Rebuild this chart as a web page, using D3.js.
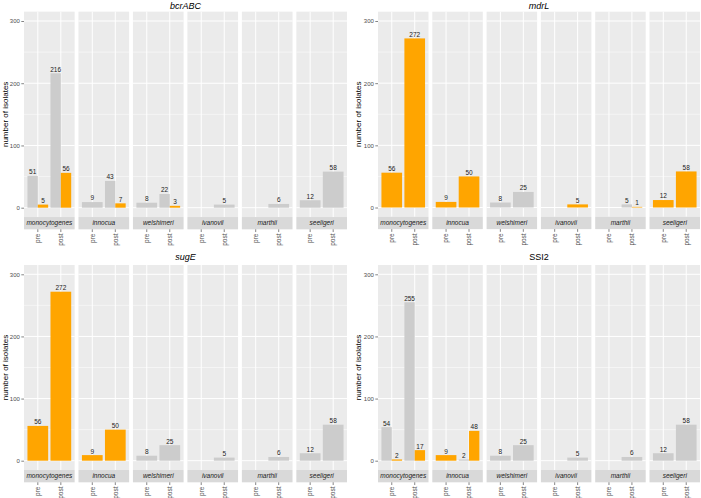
<!DOCTYPE html>
<html>
<head>
<meta charset="utf-8">
<script src="https://cdn.jsdelivr.net/npm/d3@7"></script>
<style>
  html, body { margin: 0; padding: 0; background: #fff; }
  svg { display: block; font-family: "Liberation Sans", Arial, sans-serif; }
</style>
</head>
<body>
<svg id="chart" width="701" height="498"></svg>
<script>
// ---------- data ----------
const species = ["monocytogenes", "innocua", "welshimeri", "ivanovii", "marthii", "seeligeri"];
const periods = ["pre", "post"];
const genes = ["bcrABC", "mdrL", "sugE", "SSI2"];
const geneItalic = [true, true, true, false];
const yTicks = [0, 100, 200, 300];

// values per species: [pre, post]; null = no bar
// grey = gene absent, orange = gene present
const bcrABC_absent  = [[51, 216], [9, 43], [8, 22], [null, 5], [null, 6], [12, 58]];
const bcrABC_present = [[5, 56], [null, 7], [null, 3], [null, null], [null, null], [null, null]];
const mdrL_absent    = [[null, null], [null, null], [8, 25], [null, null], [null, 5], [null, null]];
const mdrL_present   = [[56, 272], [9, 50], [null, null], [null, 5], [null, 1], [12, 58]];
const sugE_absent    = [[null, null], [null, null], [8, 25], [null, 5], [null, 6], [12, 58]];
const sugE_present   = [[56, 272], [9, 50], [null, null], [null, null], [null, null], [null, null]];
const SSI2_absent    = [[54, 255], [null, 2], [8, 25], [null, 5], [null, 6], [12, 58]];
const SSI2_present   = [[2, 17], [9, 48], [null, null], [null, null], [null, null], [null, null]];

const absentData = [bcrABC_absent, mdrL_absent, sugE_absent, SSI2_absent];
const presentData = [bcrABC_present, mdrL_present, sugE_present, SSI2_present];

// ---------- layout ----------
const svg = d3.select("#chart");
const COL_BG = "#EBEBEB", COL_STRIP = "#D9D9D9", COL_GREY = "#CCCCCC", COL_ORANGE = "#FFA500";

const layouts = [
  { left: 24, right: 347, y300: 21, y0: 207.7, titleY: 8.5, ytitleX: 7.5 },
  { left: 378, right: 700, y300: 21, y0: 207.5, titleY: 8.5, ytitleX: 361 },
  { left: 24, right: 347, y300: 274.3, y0: 460.7, titleY: 260, ytitleX: 7.5 },
  { left: 378, right: 700, y300: 274.3, y0: 460.7, titleY: 260, ytitleX: 361 }
];

genes.forEach((gene, gi) => {
  const L = layouts[gi];
  const k = (L.y0 - L.y300) / 300;
  const y = d3.scaleLinear().domain([-15, 315]).range([L.y0 + 15 * k, L.y300 - 15 * k]);
  const top = y(315), bottom = y(-15);
  const stripH = 12.3;
  const fx = d3.scaleBand().domain(species).range([L.left, L.right]).paddingInner(0.07);
  const bw = fx.bandwidth();
  const xs = d3.scalePoint().domain(periods).range([1, 2]);
  const xu = d3.scaleLinear().domain([0.4, 2.6]).range([0, bw]);

  const g = svg.append("g");

  // title
  g.append("text")
    .attr("x", (L.left + L.right) / 2).attr("y", L.titleY)
    .attr("text-anchor", "middle")
    .attr("font-size", "9px")
    .attr("font-style", geneItalic[gi] ? "italic" : "normal")
    .attr("fill", "#000")
    .text(gene);

  // y axis title
  g.append("text")
    .attr("transform", `translate(${L.ytitleX},${(top + bottom) / 2}) rotate(-90)`)
    .attr("text-anchor", "middle")
    .attr("font-size", "8px")
    .attr("fill", "#000")
    .text("number of isolates");

  // y axis
  const yAxis = d3.axisLeft(y).tickValues(yTicks).tickSize(2.7).tickPadding(1.5);
  const ya = g.append("g").attr("transform", `translate(${L.left},0)`).call(yAxis);
  ya.select(".domain").remove();
  ya.selectAll(".tick line").attr("stroke", "#333").attr("stroke-width", 0.6);
  ya.selectAll(".tick text").attr("fill", "#4D4D4D").attr("font-size", "6px")
    .attr("font-family", "Liberation Sans, Arial, sans-serif");

  species.forEach((sp, si) => {
    const x0 = fx(sp);
    const fg = g.append("g").attr("transform", `translate(${x0},0)`);
    // panel background
    fg.append("rect").attr("x", 0).attr("y", top).attr("width", bw).attr("height", bottom - top).attr("fill", COL_BG);
    // minor grid
    [50, 150, 250].forEach(v => {
      fg.append("line").attr("x1", 0).attr("x2", bw).attr("y1", y(v)).attr("y2", y(v))
        .attr("stroke", "#fff").attr("stroke-width", 0.5);
    });
    // major grid
    yTicks.forEach(v => {
      fg.append("line").attr("x1", 0).attr("x2", bw).attr("y1", y(v)).attr("y2", y(v))
        .attr("stroke", "#fff").attr("stroke-width", 1);
    });
    periods.forEach(p => {
      const cx = xu(xs(p));
      fg.append("line").attr("x1", cx).attr("x2", cx).attr("y1", top).attr("y2", bottom)
        .attr("stroke", "#fff").attr("stroke-width", 1);
    });

    // bars
    periods.forEach((p, pi) => {
      const a = absentData[gi][si][pi];
      const pr = presentData[gi][si][pi];
      const c = xs(p);
      const bars = [];
      if (a != null && pr != null) {
        bars.push({ v: a, x1: c - 0.45, x2: c, col: COL_GREY });
        bars.push({ v: pr, x1: c, x2: c + 0.45, col: COL_ORANGE });
      } else if (a != null) {
        bars.push({ v: a, x1: c - 0.45, x2: c + 0.45, col: COL_GREY });
      } else if (pr != null) {
        bars.push({ v: pr, x1: c - 0.45, x2: c + 0.45, col: COL_ORANGE });
      }
      bars.forEach(b => {
        fg.append("rect")
          .attr("x", xu(b.x1)).attr("width", xu(b.x2) - xu(b.x1))
          .attr("y", y(b.v)).attr("height", y(0) - y(b.v))
          .attr("fill", b.col);
        fg.append("text")
          .attr("x", (xu(b.x1) + xu(b.x2)) / 2).attr("y", y(b.v) - 1.6)
          .attr("text-anchor", "middle").attr("font-size", "6.5px").attr("fill", "#222")
          .text(b.v);
      });
    });

    // strip
    fg.append("rect").attr("x", 0).attr("y", bottom).attr("width", bw).attr("height", stripH).attr("fill", COL_STRIP);
    fg.append("text").attr("x", bw / 2).attr("y", bottom + stripH / 2 + 2.3)
      .attr("text-anchor", "middle").attr("font-size", "6.5px").attr("font-style", "italic")
      .attr("fill", "#1A1A1A").text(sp);

    // x axis ticks & labels
    const xa = fg.append("g").attr("transform", `translate(0,${bottom + stripH})`);
    periods.forEach(p => {
      const cx = xu(xs(p));
      xa.append("line").attr("x1", cx).attr("x2", cx).attr("y1", 0).attr("y2", 2.7)
        .attr("stroke", "#333").attr("stroke-width", 0.6);
      xa.append("text")
        .attr("transform", `translate(${cx},${4.2}) rotate(-90)`)
        .attr("text-anchor", "end").attr("dy", "0.35em")
        .attr("font-size", "6.5px").attr("fill", "#4D4D4D")
        .text(p);
    });
  });
});
</script>
</body>
</html>
